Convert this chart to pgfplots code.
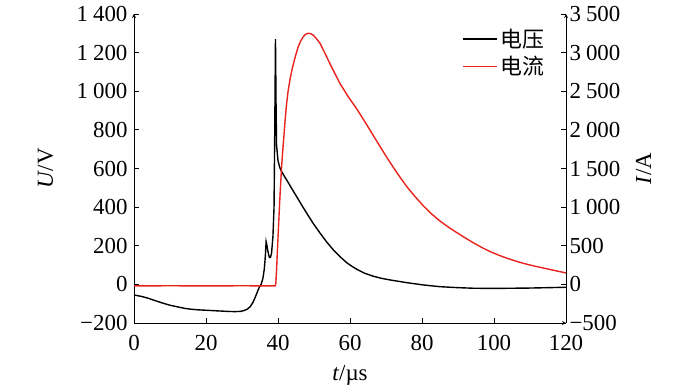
\documentclass[border=0pt]{standalone}
\usepackage{fontspec}
\setmainfont{Liberation Serif}
\newfontfamily\cjk{Noto Sans CJK SC}
\usepackage{pgfplots}
\pgfplotsset{compat=1.18}
\definecolor{cur}{RGB}{232,34,28}
\newcommand{\ts}{\hspace{0.22em}}
\begin{document}
\begin{tikzpicture}
\path[use as bounding box] (-134bp,-65bp) rectangle (566bp,323bp);
\pgfplotsset{
  every tick label/.append style={font=\fontsize{23}{25}\selectfont},
  every axis label/.append style={font=\fontsize{23}{25}\selectfont},
  common/.style={
    scale only axis, width=432bp, height=309bp,
    xmin=0, xmax=120,
    axis line style={-, line width=0.8pt},
    tick align=inside, major tick length=5bp,
    tick style={line width=0.8pt, black},
  }
}
\begin{axis}[common,
  ymin=-200, ymax=1400,
  axis x line=bottom, axis y line=left,
  tick align=inside,
  xtick={0,20,40,60,80,100,120},
  xticklabels={0,20,40,60,80,100,120},
  xticklabel style={yshift=-9bp},
  yticklabel style={xshift=-3bp},
  ytick={-200,0,200,400,600,800,1000,1200,1400},
  yticklabels={−200,0,200,400,600,800,1\ts000,1\ts200,1\ts400},
  xlabel={\textit{t}/µs}, ylabel={\textit{U}/V},
  x label style={at={(axis description cs:0.5,-0.168)}, anchor=center},
  y label style={at={(axis description cs:-0.205,0.5)}, anchor=center},
]
\addplot[black, line width=1.4pt] coordinates {
(0,-55) (2,-62) (4,-72) (6,-85) (8,-97) (10,-108) (12,-116) (14,-124) (16,-129) (18,-132) (20,-134) (22,-136) (24,-138) (26,-140) (28,-141) (29.5,-140) (30.5,-136) (31.5,-128) (32.3,-115) (33,-95) (33.6,-70) (34.2,-42) (34.8,-15) (35.3,0) (35.8,30) (36.2,80) (36.5,150) (36.7,221) (36.9,205) (37.2,170) (37.6,140) (37.9,140) (38.2,160) (38.6,250) (38.9,400) (39.1,800) (39.3,1270) (39.45,950) (39.6,720) (40.0,640) (40.5,605) (41,584) (41.7,562) (42.4,541) (43.8,497) (45.2,454) (46.6,410) (48,368) (49.8,315) (51.7,265) (53.5,220) (55.4,178) (57.2,144) (59.1,112) (60.5,94) (61.9,78) (64,58) (66.5,42) (68.8,31) (71.1,23) (75.7,9) (80.4,-3) (85,-12) (90,-17) (94.3,-20) (100,-21) (105,-20) (110,-19) (115,-17) (120,-15)
};
\end{axis}
\begin{axis}[common,
  ymin=-500, ymax=3500,
  axis x line=none, axis y line=right,
  tick align=inside,
  ytick={-500,0,500,1000,1500,2000,2500,3000,3500},
  yticklabels={−500,0,500,1\ts000,1\ts500,2\ts000,2\ts500,3\ts000,3\ts500},
  ylabel={\textit{I}/A},
  y label style={at={(axis description cs:1.18,0.5)}, anchor=center},
  legend style={at={(axis description cs:0.961,0.965)}, anchor=north east,
    draw=none, fill=none, font=\cjk\fontsize{22}{24}\selectfont, row sep=3.5bp},
  legend cell align=left,
  legend image code/.code={\draw[#1] (-6bp,0bp) -- (28bp,0bp);},
]
\addlegendimage{black, line width=1.4pt}
\addlegendentry{电压}
\addlegendimage{cur, line width=1.6pt}
\addlegendentry{电流}
\addplot[cur, line width=1.4pt, forget plot] coordinates {
(0,-20) (10,-18) (20,-20) (30,-18) (39.2,-20) (39.4,14) (39.6,180) (39.8,402) (40.1,700) (40.4,1005) (40.7,1270) (41.0,1523) (41.35,1750) (41.7,1955) (42.0,2140) (42.4,2343) (42.8,2500) (43.3,2644) (43.8,2760) (44.3,2860) (45.0,2980) (45.6,3075) (46.3,3150) (47.0,3205) (47.7,3238) (48.4,3250) (49.1,3245) (49.8,3226) (50.7,3180) (51.7,3119) (53,2995) (54.4,2860) (55.8,2730) (57.2,2601) (59.5,2430) (61.9,2270) (64.2,2100) (66.5,1925) (68.8,1750) (71.1,1580) (73.4,1420) (75.7,1270) (78,1140) (80.4,1015) (82.7,910) (85,820) (87.3,742) (89.6,672) (92,602) (94.3,537) (96.6,478) (98.9,425) (101.2,380) (103.5,340) (105.8,305) (108.1,273) (110.5,245) (112.8,221) (116,188) (120,148)
};
\end{axis}
\end{tikzpicture}
\end{document}
